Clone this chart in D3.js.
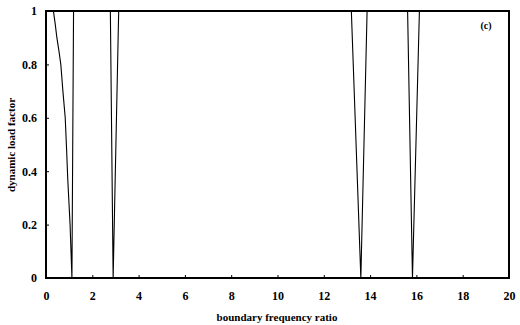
<!DOCTYPE html>
<html lang="en">
<head>
  <script src="https://d3js.org/d3.v7.min.js"></script>
  <style>
    body { margin: 0; background: #fff; }
    text { font-family: "Liberation Serif", "Times New Roman", serif; font-weight: bold; }
  </style>
</head>
<body>
  <svg width="520" height="325"></svg>
  <script>
    // values
    var ratio  = [0, 0.32, 0.40, 0.47, 0.56, 0.64, 0.73, 0.83, 0.89, 0.94, 1.04, 1.12, 1.19, 2.78, 2.9, 3.14, 13.19, 13.6, 13.87, 15.62, 15.83, 16.13, 20];
    var factor = [1, 1,    0.95, 0.9,  0.85, 0.8,  0.7,  0.6,  0.48, 0.37, 0.2,  0,    1,    1,    0,   1,    1,     0,    1,     1,     0,     1,     1];
    var xTicks = [0, 2, 4, 6, 8, 10, 12, 14, 16, 18, 20];
    var yTicks = [0, 0.2, 0.4, 0.6, 0.8, 1];

    var data = ratio.map(function (r, i) { return { x: r, y: factor[i] }; });

    var svg = d3.select("svg");
    var x = d3.scaleLinear().domain([0, 20]).range([46, 509]);
    var y = d3.scaleLinear().domain([0, 1]).range([278, 11]);

    svg.append("clipPath").attr("id", "plot")
      .append("rect").attr("x", 46).attr("y", 11).attr("width", 463).attr("height", 267);

    var line = d3.line().x(function (d) { return x(d.x); }).y(function (d) { return y(d.y); });
    svg.append("path").datum(data)
      .attr("clip-path", "url(#plot)")
      .attr("d", line)
      .attr("fill", "none").attr("stroke", "#000").attr("stroke-width", 1.1);

    var xa = svg.append("g").attr("transform", "translate(0,278)")
      .call(d3.axisBottom(x).tickValues(xTicks).tickFormat(d3.format("d"))
        .tickSizeInner(-3).tickSizeOuter(0).tickPadding(13));
    var ya = svg.append("g").attr("transform", "translate(46,0)")
      .call(d3.axisLeft(y).tickValues(yTicks).tickFormat(function (d) { return String(d); })
        .tickSizeInner(-3).tickSizeOuter(0).tickPadding(9));
    [xa, ya].forEach(function (g) {
      g.attr("font-family", "Liberation Serif").attr("font-size", 12).attr("font-weight", "bold");
      g.select(".domain").remove();
      g.selectAll("text").attr("fill", "#000");
      g.selectAll("line").attr("stroke", "#000");
    });

    svg.append("rect").attr("x", 46).attr("y", 11).attr("width", 463).attr("height", 267)
      .attr("fill", "none").attr("stroke", "#000").attr("stroke-width", 2);

    svg.append("text").attr("x", 277).attr("y", 321).attr("text-anchor", "middle")
      .attr("font-size", 11).text("boundary frequency ratio");
    svg.append("text").attr("transform", "translate(15,145) rotate(-90)").attr("text-anchor", "middle")
      .attr("font-size", 11).text("dynamic load factor");
    svg.append("text").attr("x", 486).attr("y", 29).attr("text-anchor", "middle")
      .attr("font-size", 10).text("(c)");
  </script>
</body>
</html>
